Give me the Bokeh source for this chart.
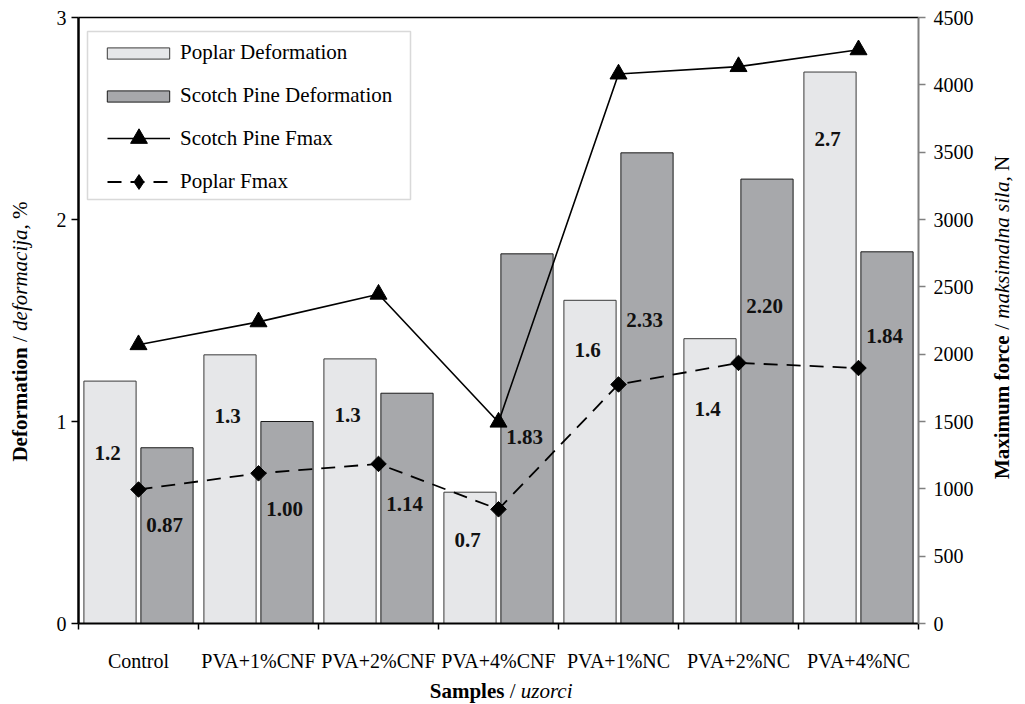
import numpy as np
from bokeh.plotting import figure
from bokeh.models import (ColumnDataSource, Range1d, LinearAxis, FixedTicker, Legend,
                          LegendItem, Label, BoxAnnotation)
from bokeh.transform import dodge
from bokeh.core.properties import value
from bokeh.embed import file_html
from bokeh.resources import INLINE

# ---------------- data ----------------
categories = ["Control", "PVA+1%CNF", "PVA+2%CNF", "PVA+4%CNF", "PVA+1%NC", "PVA+2%NC", "PVA+4%NC"]
poplar_deformation = [1.20, 1.33, 1.31, 0.65, 1.60, 1.41, 2.73]
pine_deformation = [0.87, 1.00, 1.14, 1.83, 2.33, 2.20, 1.84]
pine_fmax = [2070, 2240, 2445, 1495, 4080, 4135, 4260]
poplar_fmax = [995, 1115, 1185, 848, 1775, 1935, 1897]
poplar_labels = ["1.2", "1.3", "1.3", "0.7", "1.6", "1.4", "2.7"]
pine_labels = ["0.87", "1.00", "1.14", "1.83", "2.33", "2.20", "1.84"]
left_ticks = [0, 1, 2, 3]
right_ticks = [0, 500, 1000, 1500, 2000, 2500, 3000, 3500, 4000, 4500]

# label placement (layout, in deformation units)
poplar_label_y = [0.845, 1.028, 1.033, 0.413, 1.352, 1.063, 2.397]
pine_label_y = [0.488, 0.565, 0.592, 0.921, 1.501, 1.574, 1.422]

FONT = "Liberation Serif"
POPLAR_FILL = "#e6e7e9"
PINE_FILL = "#a7a8ab"

# ---------------- layout: the frame covers the whole canvas ----------------
W, H = 1024, 704
FL, FT, FR, FB = 78, 17, 918, 623           # plot-area edges in page pixels
NCAT = len(categories)
YMAX, FMAX = 3.0, 4500.0
PX_X = (FR - FL) / NCAT
PX_Y = (FB - FT) / YMAX
PX_F = (FB - FT) / FMAX


def dx(px):
    return (px - FL) / PX_X


def dy(py):
    return (FB - py) / PX_Y


src = ColumnDataSource(dict(
    xc=np.arange(NCAT) + 0.5,
    poplar=poplar_deformation, pine=pine_deformation,
    pine_fmax=pine_fmax, poplar_fmax=poplar_fmax,
    poplar_label=poplar_labels, pine_label=pine_labels,
    poplar_label_y=poplar_label_y, pine_label_y=pine_label_y,
))

p = figure(width=W, height=H,
           x_range=Range1d(dx(0), dx(W)), y_range=Range1d(dy(H), dy(0)),
           output_backend="svg", toolbar_location=None,
           min_border_left=0, min_border_right=0, min_border_top=0, min_border_bottom=0)
p.extra_y_ranges = {"force": Range1d(-(H - FB) / PX_F, FB / PX_F)}
p.outline_line_color = None
p.xgrid.visible = False
p.ygrid.visible = False
p.background_fill_color = "white"
p.border_fill_color = "white"

# bottom axis (fixed at y = 0)
xa = p.xaxis[0]
xa.fixed_location = 0
xa.bounds = (0, NCAT)
xa.ticker = FixedTicker(ticks=list(np.arange(NCAT) + 0.5), minor_ticks=list(range(NCAT + 1)))
xa.major_label_overrides = {float(i + 0.5): c for i, c in enumerate(categories)}
xa.major_tick_line_color = None
xa.major_tick_out = 0
xa.major_tick_in = 0
xa.minor_tick_out = 6
xa.minor_tick_in = 0
xa.minor_tick_line_color = "black"
xa.minor_tick_line_width = 1.5
xa.axis_line_color = "black"
xa.axis_line_width = 2
xa.major_label_standoff = 20
xa.major_label_text_font = FONT
xa.major_label_text_font_size = "20px"
xa.major_label_text_color = "black"

# left axis (fixed at x = 0)
ya = p.yaxis[0]
ya.fixed_location = 0
ya.bounds = (0, YMAX)
ya.ticker = FixedTicker(ticks=left_ticks)
ya.axis_line_color = "black"
ya.axis_line_width = 2.5
ya.major_tick_out = 7
ya.major_tick_in = 0
ya.major_tick_line_width = 1.5
ya.major_tick_line_color = "black"
ya.minor_tick_line_color = None
ya.major_label_standoff = 5
ya.major_label_text_font = FONT
ya.major_label_text_font_size = "20px"
ya.major_label_text_color = "black"

# right axis (fixed at x = NCAT)
ra = LinearAxis(y_range_name="force", fixed_location=NCAT, bounds=(0, FMAX),
                ticker=FixedTicker(ticks=right_ticks))
ra.axis_line_color = "#808080"
ra.axis_line_width = 2
ra.major_tick_out = 7
ra.major_tick_in = 0
ra.major_tick_line_color = "#808080"
ra.major_tick_line_width = 1.5
ra.minor_tick_line_color = None
ra.major_label_standoff = 8
ra.major_label_text_font = FONT
ra.major_label_text_font_size = "20px"
ra.major_label_text_color = "black"
p.add_layout(ra, "right")

# top border of the plot area
ta = LinearAxis(fixed_location=YMAX, bounds=(0, NCAT), ticker=FixedTicker(ticks=[]))
ta.axis_line_color = "black"
ta.axis_line_width = 1.5
ta.major_tick_line_color = None
ta.minor_tick_line_color = None
ta.major_label_text_font_size = "0px"
p.add_layout(ta, "above")

# bars
bar_w = 0.435
r_poplar = p.vbar(x=dodge("xc", -0.2375), top="poplar", width=bar_w, source=src,
                  fill_color=POPLAR_FILL, line_color="#3a3a3a", line_width=1)
r_pine = p.vbar(x=dodge("xc", 0.2375), top="pine", width=bar_w, source=src,
                fill_color=PINE_FILL, line_color="#1a1a1a", line_width=1)

# lines
r_pine_line = p.line(x="xc", y="pine_fmax", y_range_name="force", source=src,
                     line_color="black", line_width=1.6)
r_pine_pts = p.scatter(x="xc", y="pine_fmax", y_range_name="force", source=src,
                       marker="triangle", size=17, fill_color="black", line_color="black")
r_pop_line = p.line(x="xc", y="poplar_fmax", y_range_name="force", source=src,
                    line_color="black", line_width=1.8, line_dash="14 9")
r_pop_pts = p.scatter(x="xc", y="poplar_fmax", y_range_name="force", source=src,
                      marker="square", angle=np.pi / 4, size=11, fill_color="black", line_color="black")
# diamond swatch for the legend entry only (no visible point)
r_pop_swatch = p.scatter(x=[np.nan], y=[np.nan], marker="diamond", size=15,
                         fill_color="black", line_color="black")

# value labels
p.text(x=dodge("xc", -0.2575), y="poplar_label_y", text="poplar_label", source=src,
       text_font=value(FONT), text_font_style="bold", text_font_size="21px",
       text_color="#111111", text_align="center", text_baseline="middle")
p.text(x=dodge("xc", 0.2175), y="pine_label_y", text="pine_label", source=src,
       text_font=value(FONT), text_font_style="bold", text_font_size="21px",
       text_color="#111111", text_align="center", text_baseline="middle")

# legend frame
p.add_layout(BoxAnnotation(left=dx(87), right=dx(410), top=dy(31), bottom=dy(199),
                           fill_color="white", fill_alpha=1.0,
                           line_color="#808080", line_width=1.5))


def one_legend(label, renderers, gw, gh, lh, standoff, left_px, bottom_px):
    lg = Legend(items=[LegendItem(label=label, renderers=renderers)],
                location=(left_px, H - bottom_px),
                padding=0, spacing=0, margin=0, glyph_width=gw, glyph_height=gh,
                label_height=lh, label_standoff=standoff,
                border_line_alpha=0, background_fill_alpha=0,
                label_text_font=FONT, label_text_font_size="21px", label_text_color="black")
    p.add_layout(lg)


one_legend("Poplar Deformation", [r_poplar], 78, 14, 14, 3, 99, 65)
one_legend("Scotch Pine Deformation", [r_pine], 78, 14, 14, 3, 99, 108)
one_legend("Scotch Pine Fmax", [r_pine_line, r_pine_pts], 63, 42, 42, 10, 107, 159)
one_legend("Poplar Fmax", [r_pop_line, r_pop_swatch], 63, 37, 37, 10, 107, 200)


# axis titles with mixed styles: each piece anchored at its own start point
def title_pieces(pieces, cx, cy, size_px, rotated):
    gap = 0.25
    total = sum(w for _, _, w in pieces) + gap * (len(pieces) - 1)
    start = -total / 2
    for txt, style, w in pieces:
        off = start * size_px
        px, py = (cx, cy - off) if rotated else (cx + off, cy)
        kw = dict(x=dx(px), y=dy(py), text=txt, text_font=FONT,
                  text_font_style=style, text_font_size=f"{size_px}px", text_color="black",
                  text_align="left", text_baseline="middle")
        if rotated:
            kw.update(angle=np.pi / 2)
        p.add_layout(Label(**kw))
        start += w + gap


title_pieces([("Samples", "bold", 3.556), ("/", "normal", 0.278), ("uzorci", "italic", 2.5)],
             501, 690, 21, False)
title_pieces([("Deformation", "bold", 5.443), ("/", "normal", 0.278),
              ("deformacija,", "italic", 5.083), ("%", "normal", 0.833)],
             19, 331, 21, True)
title_pieces([("Maximum force", "bold", 6.859), ("/", "normal", 0.278),
              ("maksimalna sila,", "italic", 6.778), ("N", "normal", 0.722)],
             1001, 317, 21, True)

open("out.html", "w").write(file_html(p, INLINE))
